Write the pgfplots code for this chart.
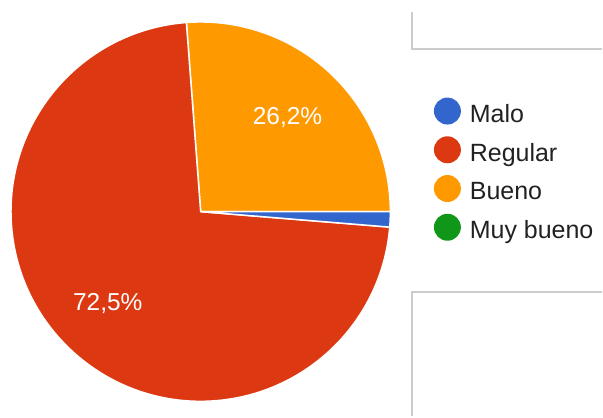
\documentclass[border=0pt]{standalone}
\usepackage{pgfplots}
\pgfplotsset{compat=1.18}
\usepackage{fontspec}
\setmainfont{Liberation Sans}

\definecolor{malo}{HTML}{3366CC}
\definecolor{regular}{HTML}{DC3912}
\definecolor{bueno}{HTML}{FF9900}
\definecolor{muybueno}{HTML}{109618}
\definecolor{caja}{HTML}{CCCCCC}

% porcentajes
\def\vMalo{1.3}
\def\vRegular{72.5}
\def\vBueno{26.2}
\def\vMuyBueno{0}

\begin{document}
\begin{tikzpicture}
  \begin{axis}[
      scale only axis, width=379pt, height=379pt,
      xmin=-1, xmax=1, ymin=-1, ymax=1,
      hide axis, clip=false,
      legend cell align=left,
      legend image code/.code={\fill[#1, draw=none] (13.5pt,0.33em) circle (13.5pt);},
      legend style={draw=none, fill=none, inner sep=0pt,
        at={(axis cs:1.232,0.604)}, anchor=north west,
        font=\fontsize{25}{29}\selectfont, row sep=11.8pt,
        nodes={inner sep=0pt, text=black!87}},
    ]
    % marco de la figura (603 x 417)
    \path (axis cs:-1.0607,1.1187) rectangle (axis cs:2.1214,-1.0818);
    % cajas grises de fondo
    \draw[caja, line width=2pt] (axis cs:1.1187,1.0565) -- (axis cs:1.1187,0.8602) -- (axis cs:2.1214,0.8602);
    \draw[caja, line width=2pt] (axis cs:2.1214,-0.4274) -- (axis cs:1.1187,-0.4274) -- (axis cs:1.1187,-1.0818);

    \pgfmathsetmacro\aMalo{3.6*\vMalo}
    \pgfmathsetmacro\aBueno{3.6*\vBueno}
    \addlegendimage{fill=malo}\addlegendentry{\hspace{9pt}Malo}
    \addlegendimage{fill=regular}\addlegendentry{\hspace{9pt}Regular}
    \addlegendimage{fill=bueno}\addlegendentry{\hspace{9pt}Bueno}
    \addlegendimage{fill=muybueno}\addlegendentry{\hspace{9pt}Muy bueno}

    % Bueno: 0 -> 26,2 %
    \fill[bueno, draw=white, line width=1.5pt] (axis cs:0,0) -- ++(0:190pt)
      arc[start angle=0, end angle=\aBueno, radius=190pt] -- cycle;
    % Regular
    \fill[regular, draw=white, line width=1.5pt] (axis cs:0,0) -- ++(\aBueno:190pt)
      arc[start angle=\aBueno, end angle={360-\aMalo}, radius=190pt] -- cycle;
    % Malo
    \fill[malo, draw=white, line width=1.5pt] (axis cs:0,0) -- ++({-\aMalo}:190pt)
      arc[start angle={-\aMalo}, end angle=0, radius=190pt] -- cycle;

    \node[white, font=\fontsize{24.5}{28}\selectfont] at (axis cs:0.459,0.496) {26,2\%};
    \node[white, font=\fontsize{24.5}{28}\selectfont] at (axis cs:-0.491,-0.486) {72,5\%};
  \end{axis}
\end{tikzpicture}
\end{document}
